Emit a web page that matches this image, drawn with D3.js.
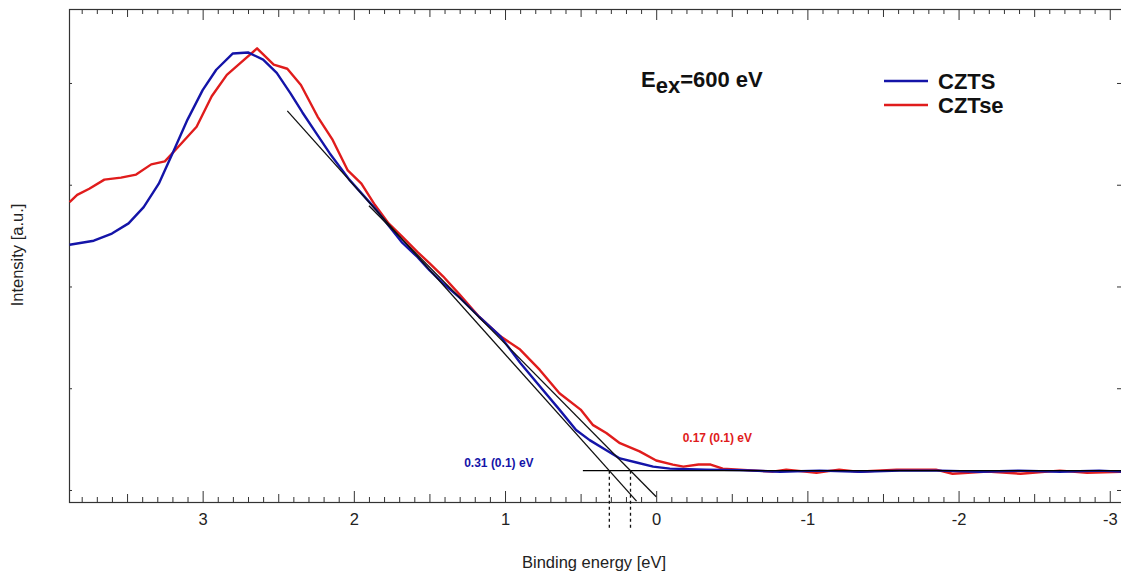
<!DOCTYPE html>
<html>
<head>
<meta charset="utf-8">
<script src="https://cdn.jsdelivr.net/npm/d3@7"></script>
<style>
  body { margin: 0; background: #fff; }
  svg { display: block; }
  text { font-family: "Liberation Sans", Arial, Helvetica, sans-serif; }
</style>
</head>
<body>
<svg id="chart" width="1121" height="578"></svg>
<script>
// Valence-band edge spectra, binding energy (eV) vs intensity (a.u.)
const cztsEnergy = [3.88, 3.72, 3.60, 3.49, 3.39, 3.29, 3.19, 3.10, 3.00, 2.91, 2.80, 2.70, 2.60, 2.51,
  2.42, 2.34, 2.25, 2.16, 2.03, 1.94, 1.85, 1.76, 1.68, 1.58, 1.50, 1.41, 1.30, 1.17, 1.03, 0.90,
  0.77, 0.64, 0.53, 0.44, 0.33, 0.24, 0.13, 0.02, -0.09, -0.33, -0.55, -0.82, -1.08, -1.35, -1.61,
  -1.88, -2.14, -2.40, -2.67, -2.93, -3.09];
const cztsIntensity = [2.41, 2.45, 2.52, 2.62, 2.78, 3.01, 3.34, 3.64, 3.93, 4.13, 4.29, 4.30, 4.23, 4.10,
  3.90, 3.71, 3.51, 3.31, 3.05, 2.90, 2.75, 2.58, 2.43, 2.29, 2.16, 2.03, 1.89, 1.70, 1.51, 1.25,
  1.02, 0.79, 0.59, 0.49, 0.39, 0.31, 0.27, 0.23, 0.21, 0.20, 0.195, 0.18, 0.19, 0.18, 0.19,
  0.19, 0.18, 0.19, 0.18, 0.19, 0.18];

const cztseEnergy = [3.88, 3.83, 3.75, 3.65, 3.54, 3.44, 3.34, 3.25, 3.15, 3.04, 2.94, 2.84, 2.74, 2.64,
  2.62, 2.53, 2.44, 2.35, 2.24, 2.14, 2.04, 1.95, 1.86, 1.77, 1.68, 1.58, 1.50, 1.41, 1.30, 1.17,
  1.03, 0.90, 0.77, 0.64, 0.50, 0.42, 0.33, 0.24, 0.11, 0.00, -0.11, -0.18, -0.28, -0.36, -0.44,
  -0.55, -0.77, -0.86, -1.06, -1.21, -1.33, -1.59, -1.85, -1.96, -2.19, -2.41, -2.67, -2.85, -3.09];
const cztseIntensity = [2.83, 2.90, 2.96, 3.05, 3.07, 3.10, 3.20, 3.23, 3.39, 3.57, 3.87, 4.08, 4.21, 4.34,
  4.31, 4.18, 4.14, 3.98, 3.67, 3.44, 3.14, 3.01, 2.80, 2.62, 2.49, 2.34, 2.23, 2.10, 1.92, 1.70,
  1.51, 1.38, 1.18, 0.95, 0.79, 0.64, 0.56, 0.46, 0.38, 0.29, 0.25, 0.23, 0.25, 0.25, 0.21,
  0.20, 0.18, 0.20, 0.17, 0.20, 0.18, 0.20, 0.20, 0.16, 0.18, 0.16, 0.19, 0.17, 0.18];

// Linear extrapolation of the leading edges down to the background level
const backgroundLevel = 0.19;
const backgroundFrom = 0.485;
const onsetLabels = ["0.31 (0.1) eV", "0.17 (0.1) eV"];
const onsetValues = [0.31, 0.17];
const edgeSlopes = [1.66, 1.505];
const edgeFrom = [2.44, 1.90];
const edgeTo = [0.13, 0.0];
const dropTo = -0.39;

const xMajorTicks = [3, 2, 1, 0, -1, -2, -3];
const xTickLabels = ["3", "2", "1", "0", "-1", "-2", "-3"];
const yTickValues = [0, 1, 2, 3, 4];

const seriesNames = ["CZTS", "CZTse"];
const seriesColors = ["#1414a8", "#e01c1c"];

// ---- layout ----
const svg = d3.select("#chart");
const plotLeft = 69, plotRight = 1122, plotTop = 9, plotBottom = 502;

const x = d3.scaleLinear().domain([3.884, -3.081]).range([plotLeft, plotRight]);
const y = d3.scaleLinear().domain([-0.118, 4.727]).range([plotBottom, plotTop]);

svg.append("defs").append("clipPath").attr("id", "plotClip")
  .append("rect").attr("x", plotLeft).attr("y", plotTop)
  .attr("width", plotRight - plotLeft).attr("height", plotBottom - plotTop);

// tick sets
const tenths = d3.range(-30, 39).map(i => i / 10);
const halves = tenths.filter(v => Math.abs(v * 2 - Math.round(v * 2)) < 1e-6 && Math.abs(v - Math.round(v)) > 1e-6);
const minors = tenths.filter(v => Math.abs(v * 2 - Math.round(v * 2)) > 1e-6);

const axisColor = "#333";

function styleAxis(g) {
  g.select(".domain").remove();
  g.selectAll(".tick line").attr("stroke", axisColor).attr("stroke-width", 1);
}

// bottom axis
svg.append("g").attr("transform", `translate(0,${plotBottom})`)
  .call(d3.axisBottom(x).tickValues(minors).tickSize(-5).tickFormat(""))
  .call(styleAxis);
svg.append("g").attr("transform", `translate(0,${plotBottom})`)
  .call(d3.axisBottom(x).tickValues(halves).tickSize(-8).tickFormat(""))
  .call(styleAxis);
svg.append("g").attr("transform", `translate(0,${plotBottom})`)
  .call(d3.axisBottom(x).tickValues(xMajorTicks).tickSize(-11)
    .tickFormat((d, i) => xTickLabels[i]))
  .call(styleAxis)
  .call(g => g.selectAll(".tick text").attr("font-size", 16.5).attr("fill", "#222")
    .attr("font-family", "'Liberation Sans', Arial, sans-serif").attr("dy", 0).attr("y", 23));

// top axis
svg.append("g").attr("transform", `translate(0,${plotTop})`)
  .call(d3.axisTop(x).tickValues(minors).tickSize(-5).tickFormat(""))
  .call(styleAxis);
svg.append("g").attr("transform", `translate(0,${plotTop})`)
  .call(d3.axisTop(x).tickValues(halves).tickSize(-8).tickFormat(""))
  .call(styleAxis);
svg.append("g").attr("transform", `translate(0,${plotTop})`)
  .call(d3.axisTop(x).tickValues(xMajorTicks).tickSize(-11).tickFormat(""))
  .call(styleAxis);

// left / right axes (unlabelled intensity)
svg.append("g").attr("transform", `translate(${plotLeft},0)`)
  .call(d3.axisLeft(y).tickValues(yTickValues).tickSize(-3).tickFormat(""))
  .call(styleAxis);
svg.append("g").attr("transform", `translate(${plotRight},0)`)
  .call(d3.axisRight(y).tickValues(yTickValues).tickSize(-5).tickFormat(""))
  .call(styleAxis);

// frame
svg.append("rect").attr("x", plotLeft + 0.5).attr("y", plotTop + 0.5)
  .attr("width", plotRight - plotLeft).attr("height", plotBottom - plotTop)
  .attr("fill", "none").attr("stroke", axisColor).attr("stroke-width", 1.2);

// axis titles
svg.append("text").attr("x", 594).attr("y", 568).attr("text-anchor", "middle")
  .attr("font-size", 16.5).attr("fill", "#222").text("Binding energy [eV]");
svg.append("text").attr("transform", "translate(23,255) rotate(-90)").attr("text-anchor", "middle")
  .attr("font-size", 16.5).attr("fill", "#222").text("Intensity [a.u.]");

// spectra
const plot = svg.append("g").attr("clip-path", "url(#plotClip)");
const line = d3.line().x(d => x(d[0])).y(d => y(d[1]));

const series = [
  d3.zip(cztsEnergy, cztsIntensity),
  d3.zip(cztseEnergy, cztseIntensity)
];

// background level
svg.append("line")
  .attr("x1", x(backgroundFrom)).attr("x2", plotRight)
  .attr("y1", y(backgroundLevel)).attr("y2", y(backgroundLevel))
  .attr("stroke", "#000").attr("stroke-width", 1.4);

// spectra curves (CZTse below CZTS)
[1, 0].forEach(i => {
  plot.append("path").datum(series[i])
    .attr("d", line)
    .attr("fill", "none")
    .attr("stroke", seriesColors[i])
    .attr("stroke-width", 2.4)
    .attr("stroke-linejoin", "round");
});

// edge extrapolation lines and onset markers
onsetValues.forEach((v, i) => {
  const f = e => backgroundLevel + edgeSlopes[i] * (e - v);
  svg.append("path").datum([[edgeFrom[i], f(edgeFrom[i])], [edgeTo[i], f(edgeTo[i])]])
    .attr("d", line).attr("fill", "none").attr("stroke", "#111").attr("stroke-width", 1.3);
  svg.append("line")
    .attr("x1", x(v)).attr("x2", x(v))
    .attr("y1", y(backgroundLevel)).attr("y2", y(dropTo))
    .attr("stroke", "#111").attr("stroke-width", 1.3).attr("stroke-dasharray", "3,3");
});

// onset labels
svg.append("text").attr("x", x(1.27)).attr("y", y(0.23))
  .attr("font-size", 12).attr("font-weight", "bold").attr("fill", seriesColors[0]).text(onsetLabels[0]);
svg.append("text").attr("x", x(-0.175)).attr("y", y(0.47))
  .attr("font-size", 12).attr("font-weight", "bold").attr("fill", seriesColors[1]).text(onsetLabels[1]);

// excitation energy note
const note = svg.append("text").attr("x", 641).attr("y", 87)
  .attr("font-size", 22).attr("font-weight", "bold").attr("fill", "#111");
note.append("tspan").text("E");
note.append("tspan").attr("dy", 6).text("ex");
note.append("tspan").attr("dy", -6).text("=600 eV");

// legend
seriesNames.forEach((name, i) => {
  const ly = 81 + i * 24;
  svg.append("line").attr("x1", 884).attr("x2", 928).attr("y1", ly).attr("y2", ly)
    .attr("stroke", seriesColors[i]).attr("stroke-width", 2.4);
  svg.append("text").attr("x", 938).attr("y", ly + 7.5)
    .attr("font-size", 22).attr("font-weight", "bold").attr("fill", "#111").text(name);
});
</script>
</body>
</html>
